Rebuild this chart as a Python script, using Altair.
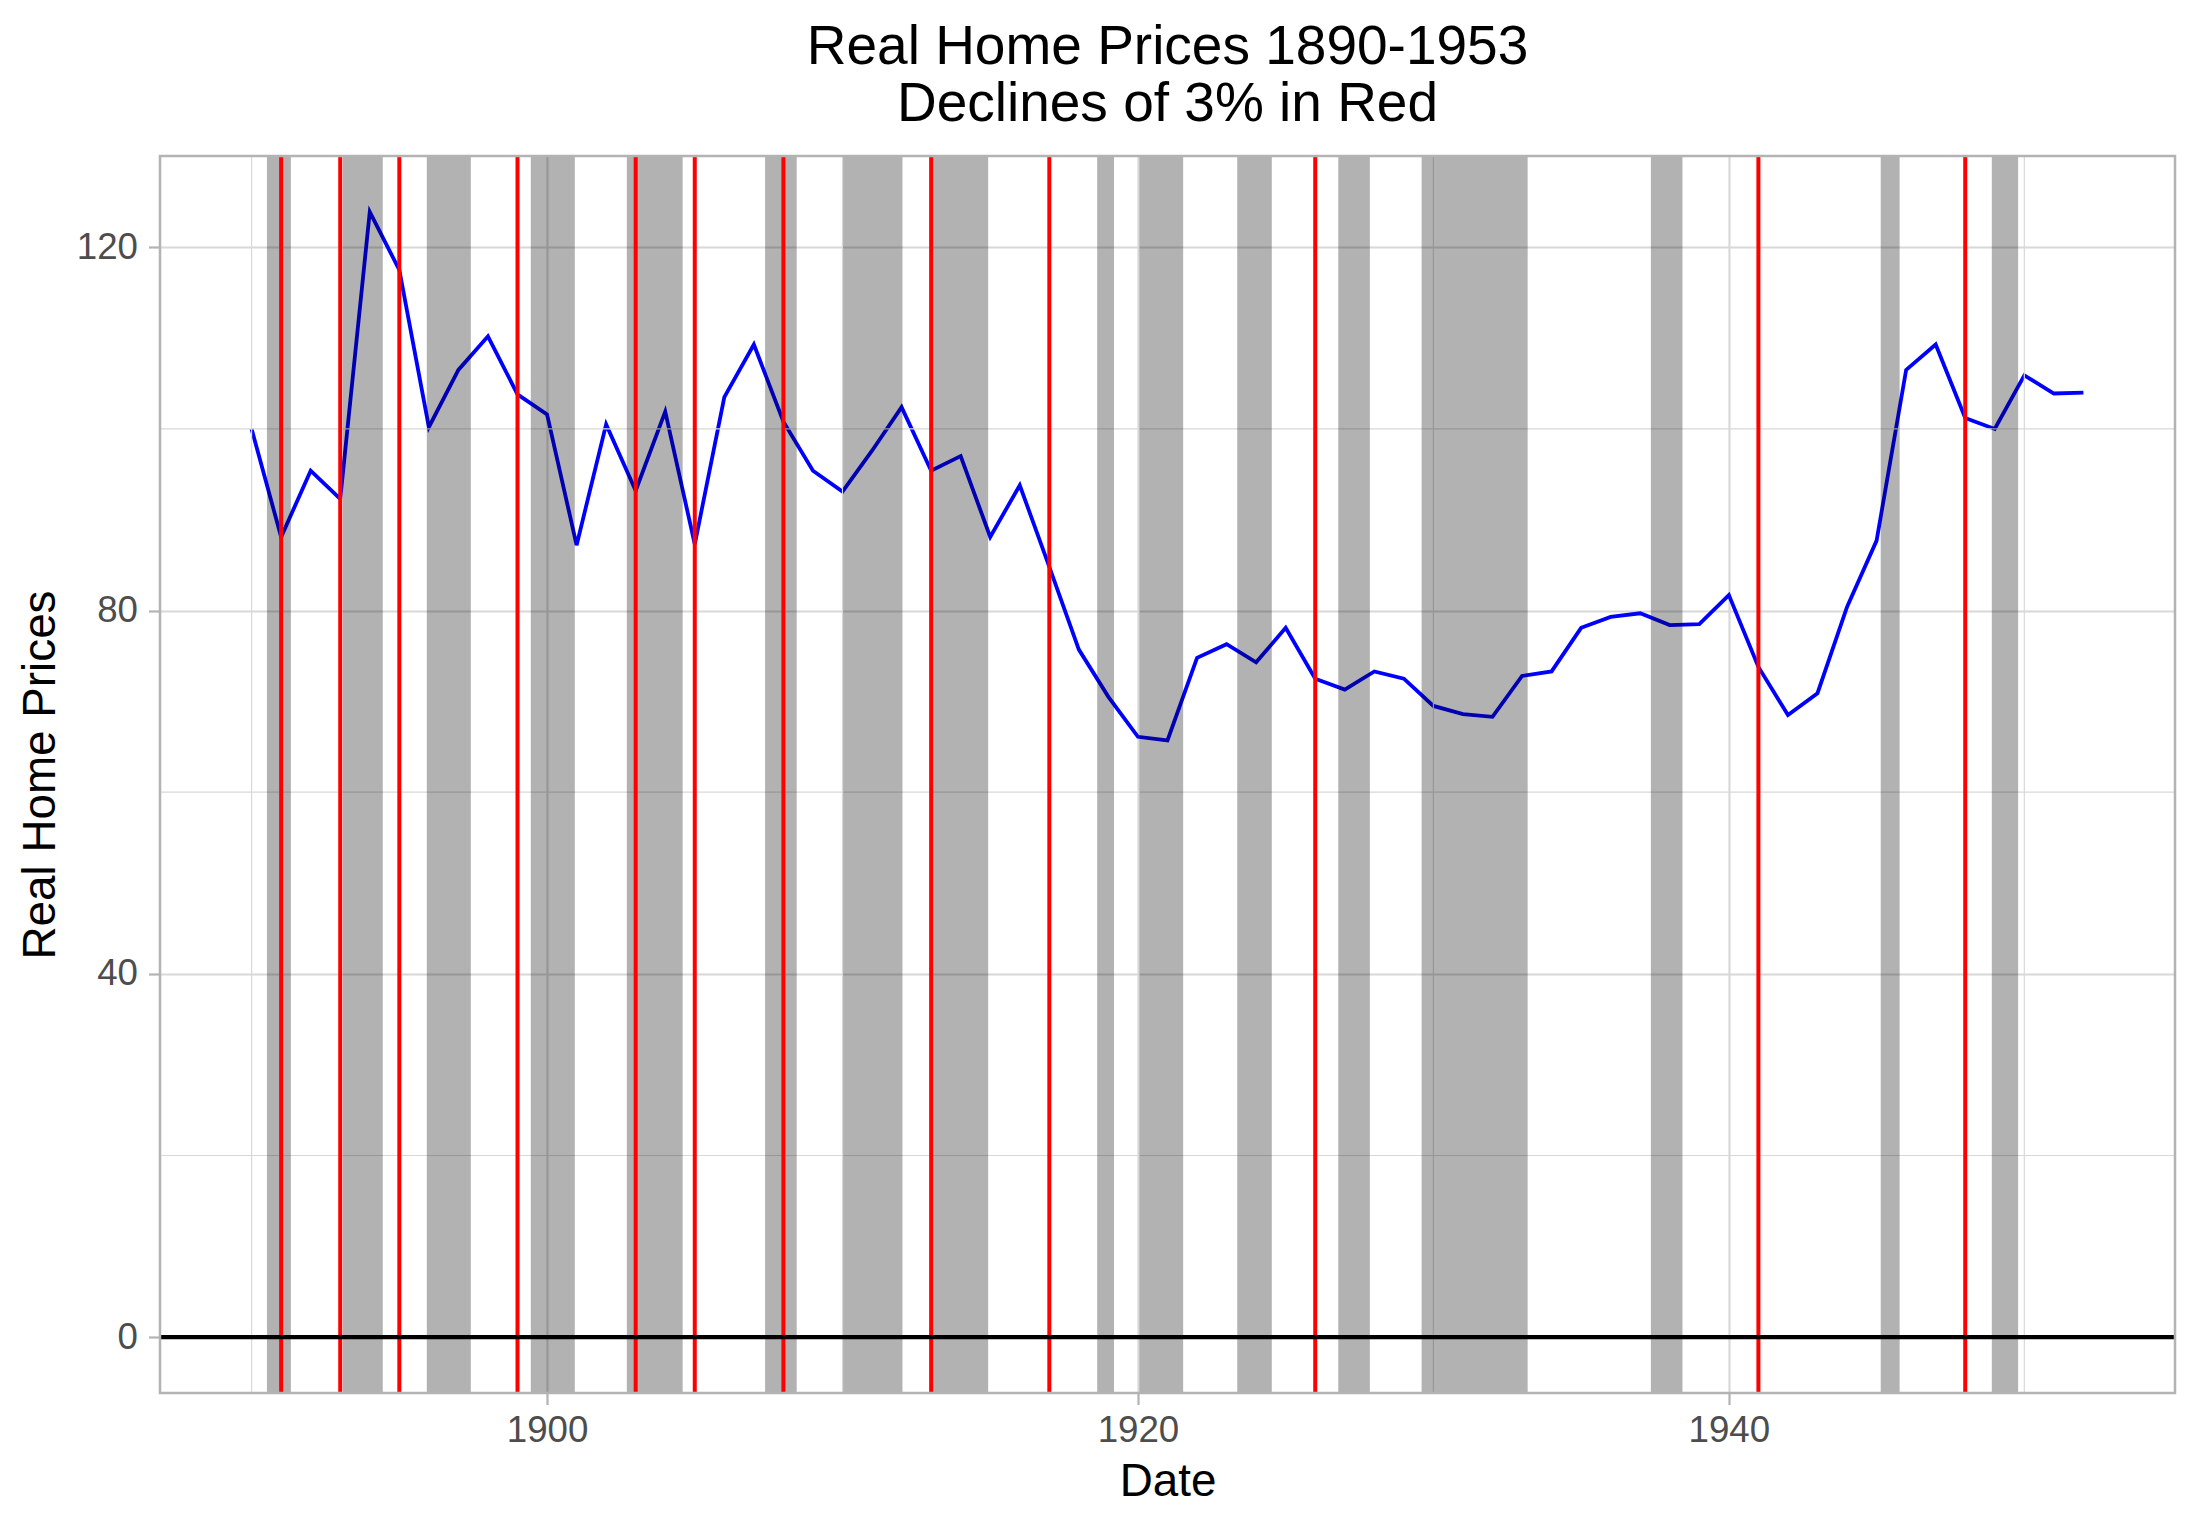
import altair as alt
import pandas as pd

# ---- data ----
years = [1890, 1891, 1892, 1893, 1894, 1895, 1896, 1897, 1898, 1899,
         1900, 1901, 1902, 1903, 1904, 1905, 1906, 1907, 1908, 1909,
         1910, 1911, 1912, 1913, 1914, 1915, 1916, 1917, 1918, 1919,
         1920, 1921, 1922, 1923, 1924, 1925, 1926, 1927, 1928, 1929,
         1930, 1931, 1932, 1933, 1934, 1935, 1936, 1937, 1938, 1939,
         1940, 1941, 1942, 1943, 1944, 1945, 1946, 1947, 1948, 1949,
         1950, 1951, 1952]
prices = [100.0, 88.1, 95.4, 92.3, 123.9, 117.5, 100.2, 106.5, 110.2, 103.8,
          101.6, 87.2, 100.5, 93.2, 101.9, 87.3, 103.5, 109.3, 100.8, 95.4,
          93.1, 97.6, 102.4, 95.4, 97.0, 88.1, 93.8, 84.8, 75.7, 70.5,
          66.1, 65.7, 74.8, 76.3, 74.3, 78.1, 72.5, 71.3, 73.3, 72.5,
          69.5, 68.6, 68.3, 72.8, 73.3, 78.1, 79.3, 79.7, 78.4, 78.5,
          81.7, 73.8, 68.5, 70.9, 80.4, 87.7, 106.5, 109.3, 101.2, 100.0,
          105.9, 103.9, 104.0]

rec_start = [1890.52, 1893.09, 1895.93, 1899.45, 1902.70, 1907.38, 1910.02, 1913.02,
             1918.62, 1920.05, 1923.36, 1926.78, 1929.60, 1937.36, 1945.14, 1948.90]
rec_end = [1891.33, 1894.44, 1897.42, 1900.94, 1904.59, 1908.45, 1912.03, 1914.93,
           1919.19, 1921.53, 1924.53, 1927.85, 1933.19, 1938.43, 1945.78, 1949.79]

decline_years = [1891, 1893, 1895, 1899, 1903, 1905, 1908, 1913, 1917, 1926, 1941, 1948]

x_major = [1900, 1920, 1940]
x_minor = [1890, 1910, 1930, 1950]
y_major = [0, 40, 80, 120]
y_minor = [20, 60, 100]
zero_line = [0]

title_lines = ["Real Home Prices 1890-1953", "Declines of 3% in Red"]

# ---- layout / style ----
W, H = 2015, 1237
FONT = "Liberation Sans"
GRID = "#D8D8D8"
BORDER = "#B3B3B3"

df = pd.DataFrame({"year": years, "price": prices})
rec = pd.DataFrame({"start": rec_start, "end": rec_end})
dec = pd.DataFrame({"year": decline_years})
xm = pd.DataFrame({"year": x_minor})
ym = pd.DataFrame({"price": y_minor})
zr = pd.DataFrame({"price": zero_line})
one = pd.DataFrame({"a": [0]})

xscale = alt.Scale(domain=[1886.9, 1955.1], nice=False, zero=False)
yscale = alt.Scale(domain=[-6.15, 130.05], nice=False, zero=False)

xaxis = alt.Axis(values=x_major, format="d", title="Date", grid=True,
                 gridColor=GRID, gridWidth=2.2, domain=False,
                 tickColor=BORDER, tickWidth=2.2, tickSize=11.5,
                 labelFontSize=36.7, labelColor="#4D4D4D", labelFont=FONT,
                 labelPadding=8, titleFont=FONT, titleFontSize=45.8,
                 titleFontWeight="normal", titleColor="black", titlePadding=10)
yaxis = alt.Axis(values=y_major, format="d", title="Real Home Prices", grid=True,
                 gridColor=GRID, gridWidth=2.2, domain=False,
                 tickColor=BORDER, tickWidth=2.2, tickSize=11.5,
                 labelFontSize=36.7, labelColor="#4D4D4D", labelFont=FONT,
                 labelPadding=11, titleFont=FONT, titleFontSize=45.8,
                 titleFontWeight="normal", titleColor="black", titlePadding=12)

X = lambda f: alt.X(f, scale=xscale, axis=xaxis)
Y = lambda f: alt.Y(f, scale=yscale, axis=yaxis)

line = alt.Chart(df).mark_line(color="#0000FF", strokeWidth=3.8).encode(
    x=X("year:Q"), y=Y("price:Q"))

minor_x = alt.Chart(xm).mark_rule(color=GRID, strokeWidth=1.2).encode(x=X("year:Q"))
minor_y = alt.Chart(ym).mark_rule(color=GRID, strokeWidth=1.2).encode(y=Y("price:Q"))

rects = alt.Chart(rec).mark_rect(color="black", opacity=0.3).encode(
    x=X("start:Q"), x2="end:Q",
    y=alt.value(0), y2=alt.value(H))

reds = alt.Chart(dec).mark_rule(color="#FF0000", strokeWidth=4.0).encode(x=X("year:Q"))

zero = alt.Chart(zr).mark_rule(color="black", strokeWidth=4.2).encode(y=Y("price:Q"))

border = alt.Chart(one).mark_rect(filled=False, stroke=BORDER, strokeWidth=2.5).encode(
    x=alt.value(0), x2=alt.value(W), y=alt.value(0), y2=alt.value(H))

chart = alt.layer(line, minor_x, minor_y, rects, reds, zero, border).properties(
    width=W, height=H,
    padding={"left": 160, "top": 156, "right": 25, "bottom": 136},
    autosize="none",
    title=alt.TitleParams(text=title_lines, fontSize=55, font=FONT,
                          fontWeight="normal", color="black",
                          anchor="middle", offset=21, lineHeight=57),
).configure_view(strokeWidth=0).configure(background="white")

chart.save("out.html", embed_options={"renderer": "svg", "actions": False})
